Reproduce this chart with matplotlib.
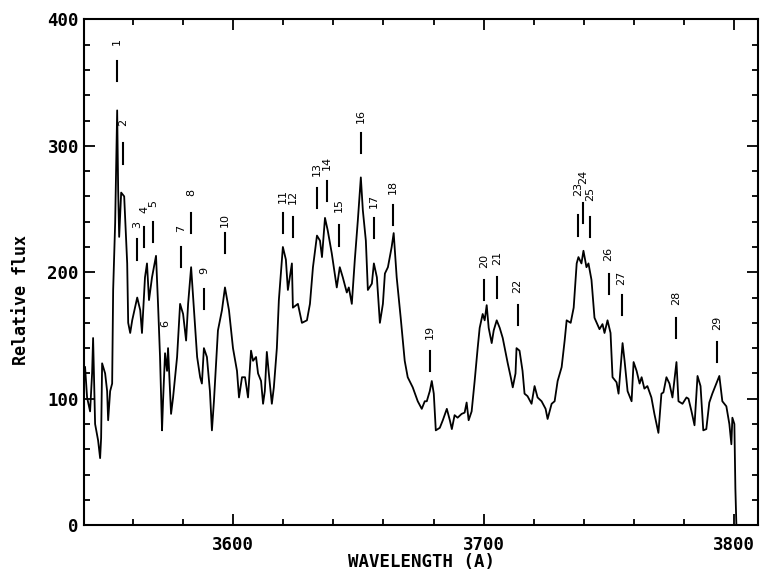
import matplotlib
matplotlib.use("Agg")
import matplotlib.pyplot as plt
from matplotlib.ticker import MultipleLocator

# Spectrum (wavelength in A, relative flux).
wavelength = [
    3541.0, 3541.8, 3543.0, 3543.8, 3544.2, 3545.0, 3546.2, 3547.0, 3547.4, 3547.8,
    3549.0, 3549.8, 3550.2, 3551.0, 3551.8, 3552.2, 3553.0, 3553.4, 3553.8, 3554.2,
    3554.6, 3555.4, 3556.6, 3557.8, 3558.2, 3559.0, 3559.8, 3561.8, 3563.0, 3563.7,
    3564.9, 3565.7, 3566.5, 3567.7, 3569.3, 3570.1, 3570.9, 3571.7, 3572.1, 3572.9,
    3573.7, 3574.1, 3575.3, 3576.1, 3577.7, 3578.9, 3580.1, 3581.3, 3582.1, 3583.3,
    3584.1, 3585.7, 3586.9, 3587.6, 3588.4, 3589.6, 3590.8, 3591.6, 3592.4, 3594.0,
    3595.6, 3596.8, 3598.4, 3600.0, 3601.6, 3602.4, 3603.6, 3604.8, 3606.0, 3607.2,
    3608.0, 3609.2, 3610.0, 3611.2, 3612.0, 3612.7, 3613.5, 3614.3, 3615.5, 3616.3,
    3617.5, 3618.3, 3619.9, 3621.1, 3621.9, 3623.5, 3623.9, 3625.9, 3627.5, 3629.5,
    3630.7, 3631.9, 3633.5, 3634.7, 3635.5, 3636.7, 3637.8, 3639.4, 3641.4, 3642.6,
    3643.8, 3645.4, 3646.2, 3647.4, 3648.6, 3649.8, 3651.0, 3651.8, 3653.0, 3653.8,
    3655.4, 3656.2, 3657.4, 3658.6, 3659.8, 3660.6, 3661.8, 3663.3, 3664.1, 3665.3,
    3666.9, 3668.5, 3669.7, 3671.7, 3673.7, 3675.3, 3676.5, 3677.3, 3678.5, 3679.3,
    3680.1, 3680.9, 3682.5, 3683.7, 3685.3, 3686.5, 3687.3, 3688.4, 3689.6, 3691.2,
    3692.4, 3693.2, 3694.0, 3695.2, 3696.4, 3697.6, 3698.4, 3699.6, 3700.4, 3701.2,
    3702.0, 3703.2, 3704.0, 3705.2, 3706.4, 3707.6, 3708.4, 3709.6, 3710.8, 3711.6,
    3712.7, 3713.1, 3714.3, 3715.5, 3716.3, 3717.5, 3719.1, 3720.3, 3721.5, 3723.1,
    3724.7, 3725.5, 3727.1, 3728.3, 3729.5, 3731.1, 3732.3, 3733.1, 3734.7, 3735.9,
    3737.1, 3737.8, 3739.0, 3739.8, 3741.0, 3741.8, 3743.0, 3744.2, 3746.2, 3747.4,
    3748.2, 3749.4, 3750.6, 3751.4, 3753.0, 3753.8, 3755.4, 3756.2, 3757.4, 3759.0,
    3759.8, 3761.0, 3762.2, 3763.0, 3764.1, 3765.3, 3766.9, 3768.1, 3769.7, 3770.9,
    3771.7, 3772.9, 3774.1, 3775.3, 3776.9, 3777.7, 3779.3, 3780.9, 3781.7, 3782.9,
    3784.1, 3785.3, 3786.5, 3787.6, 3788.8, 3790.0, 3791.2, 3792.8, 3794.0, 3795.2,
    3796.8, 3798.0, 3798.8, 3799.2, 3800.0, 3800.4, 3800.8,
]
flux = [
    125, 101, 90, 120, 148, 80, 67, 53, 69, 128,
    120, 106, 83, 106, 112, 186, 239, 286, 328, 265,
    228, 263, 260, 207, 160, 152, 162, 180, 170, 152,
    196, 207, 178, 196, 213, 175, 133, 75, 98, 136,
    122, 140, 88, 101, 133, 175, 167, 146, 175, 204,
    180, 133, 117, 112, 140, 133, 106, 75, 98, 154,
    170, 188, 170, 140, 122, 101, 117, 117, 101, 138,
    130, 133, 120, 114, 96, 106, 137, 120, 96, 109,
    140, 178, 220, 210, 186, 207, 172, 175, 160, 162,
    175, 204, 229, 225, 212, 243, 233, 215, 188, 204,
    196, 184, 188, 175, 210, 241, 275, 249, 225, 186,
    191, 207, 196, 160, 175, 199, 204, 220, 231, 196,
    164, 130, 117, 109, 98, 92, 98, 98, 106, 114,
    104, 75, 77, 83, 92, 83, 76, 87, 85, 88,
    89, 97, 83, 90, 114, 140, 156, 167, 162, 174,
    156, 144, 154, 162, 156, 148, 140, 128, 117, 109,
    120, 140, 138, 122, 104, 102, 96, 110, 101, 98,
    92, 84, 96, 98, 114, 125, 146, 162, 160, 172,
    207, 212, 207, 217, 204, 207, 194, 164, 155, 159,
    152, 162, 152, 117, 113, 104, 144, 130, 106, 98,
    129, 122, 112, 117, 108, 110, 101, 88, 73, 104,
    105, 117, 112, 101, 129, 98, 96, 101, 100, 90,
    79, 118, 110, 75, 76, 97, 104, 112, 118, 98,
    94, 80, 64, 85, 80, 29, 0,
]

# Identified lines: number, wavelength and flux at the bottom of the marker.
line_ids = [str(i) for i in range(1, 30)]
line_wl = [
    3553.8, 3556.2, 3561.8, 3564.5, 3568.1, 3572.9, 3579.3, 3583.3, 3588.4, 3596.8,
    3619.9, 3623.9, 3633.5, 3637.5, 3642.2, 3651.0, 3656.2, 3663.7, 3678.5, 3700.0,
    3705.2, 3713.5, 3737.8, 3739.8, 3742.6, 3749.8, 3755.0, 3776.9, 3793.2,
]
line_lo = [
    351, 286, 210, 220, 224, None, 204, 231, 171, 215,
    231, 228, 251, 256, 221, 294, 227, 237, 122, 178,
    180, 158, 229, 239, 228, 183, 166, 148, 129,
]
# Flux where the label number starts.
label_lo = [
    380, 316, 235, 247, 252, 157, 232, 260, 199, 236,
    255, 254, 276, 281, 248, 318, 251, 262, 147, 203,
    206, 184, 260, 270, 256, 209, 190, 174, 154,
]


def plot_spectrum():
    fig = plt.figure(figsize=(7.62, 5.69), dpi=100)
    ax = fig.add_axes([0.110, 0.077, 0.885, 0.889])

    ax.plot(wavelength, flux, color="black", lw=1.3)

    for name, wl, lo, lab in zip(line_ids, line_wl, line_lo, label_lo):
        if lo is not None:
            ax.plot([wl, wl], [lo, lo + 16], color="black", lw=1.5)
        ax.text(wl, lab, name, rotation=90, ha="center", va="bottom",
                fontsize=8, family="DejaVu Sans")

    ax.set_xlim(3540.5, 3809.5)
    ax.set_ylim(0, 400)
    ax.xaxis.set_major_locator(MultipleLocator(100))
    ax.xaxis.set_minor_locator(MultipleLocator(20))
    ax.yaxis.set_major_locator(MultipleLocator(100))
    ax.yaxis.set_minor_locator(MultipleLocator(20))
    ax.tick_params(which="both", direction="in", top=True, right=True,
                   width=1.3, labelsize=12.5)
    ax.tick_params(which="major", length=8)
    ax.tick_params(which="minor", length=4)
    ax.tick_params(axis="x", which="major", pad=8)
    for lab in ax.get_xticklabels() + ax.get_yticklabels():
        lab.set_fontweight("bold")
        lab.set_family("DejaVu Sans Mono")
    for sp in ax.spines.values():
        sp.set_linewidth(1.5)

    ax.set_xlabel("WAVELENGTH (A)", fontsize=12.5, fontweight="bold",
                  family="DejaVu Sans Mono")
    ax.xaxis.set_label_coords(0.5, -0.054)
    ax.set_ylabel("Relative flux", fontsize=12, fontweight="bold",
                  family="DejaVu Sans Mono")
    ax.yaxis.set_label_coords(-0.080, 0.446)

    fig.savefig("out.png", dpi=100)
    plt.close(fig)


if __name__ == "__main__":
    plot_spectrum()
